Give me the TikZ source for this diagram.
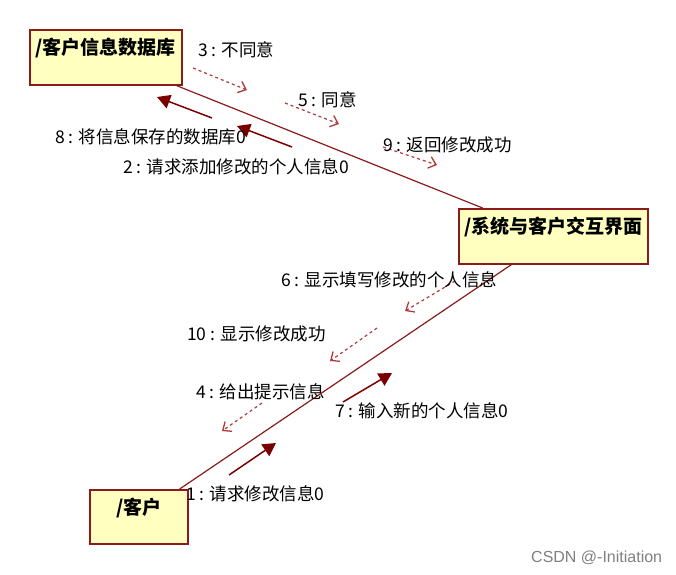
\documentclass[tikz,border=0pt]{standalone}
\usepackage{fontspec}
\newfontfamily\cjk{Noto Sans CJK SC}
\newfontfamily\wmfont{Liberation Sans}
\usepackage{tikz}
\usetikzlibrary{arrows.meta}

\definecolor{linkred}{HTML}{8B1A1A}
\definecolor{msgred}{HTML}{7A0000}
\definecolor{retred}{HTML}{B03A3A}
\definecolor{objfill}{HTML}{FFFFC0}

\begin{document}
\begin{tikzpicture}[
  x=1pt, y=-1pt,
  font=\cjk\fontsize{17.5}{19}\selectfont,
  obj/.style={draw=linkred, fill=objfill, line width=1.5pt, anchor=north west, align=center,
    inner xsep=4pt, inner ysep=4pt, text height=21pt,
    font=\cjk\bfseries\fontsize{19}{21}\selectfont},
  link/.style={draw=linkred, line width=1.2pt},
  call/.style={draw=msgred, line width=1.5pt, -{Triangle[length=13pt, width=14pt]}},
  reply/.style={draw=retred, line width=1.2pt, dash pattern=on 3pt off 3pt,
    -{Straight Barb[length=7pt, width=12pt, line width=1.3pt]}},
  msg/.style={anchor=west, inner sep=0pt},
]
\useasboundingbox (0,0) rectangle (676,574);

% objects
\node[obj, minimum width=152pt, minimum height=55pt, text depth=26pt] (dbase) at (29,29) {/客户信息数据库};
\node[obj, minimum width=189pt, minimum height=55pt, text depth=26pt] (ui) at (458,208) {/系统与客户交互界面};
\node[obj, minimum width=98pt, minimum height=54pt, text depth=25pt] (client) at (89,489) {/客户};

% links
\draw[link] (dbase) -- (ui);
\draw[link] (ui) -- (client);

% message ends
\coordinate (m3a) at (193,68);  \coordinate (m3b) at (247,90);
\coordinate (m5a) at (285,103); \coordinate (m5b) at (339,124);
\coordinate (m9a) at (383,147); \coordinate (m9b) at (437,165);
\coordinate (m8a) at (212,118); \coordinate (m8b) at (157,97);
\coordinate (m2a) at (292,147); \coordinate (m2b) at (237,126);
\coordinate (m6a) at (455,281); \coordinate (m6b) at (405,311);
\coordinate (m10a) at (377,328); \coordinate (m10b) at (330,361);
\coordinate (m4a) at (262,403); \coordinate (m4b) at (222,431);
\coordinate (m7a) at (343,402); \coordinate (m7b) at (392,373);
\coordinate (m1a) at (229,475); \coordinate (m1b) at (276,443);

% messages
\draw[reply] (m3a) -- (m3b);
\draw[reply] (m5a) -- (m5b);
\draw[reply] (m9a) -- (m9b);
\draw[call] (m8a) -- (m8b);
\draw[call] (m2a) -- (m2b);
\draw[reply] (m6a) -- (m6b);
\draw[reply] (m10a) -- (m10b);
\draw[reply] (m4a) -- (m4b);
\draw[call] (m7a) -- (m7b);
\draw[call] (m1a) -- (m1b);

\node[msg] (t3) at (198,50) {3 : 不同意};
\node[msg] (t5) at (298,100) {5 : 同意};
\node[msg] (t9) at (383,145) {9 : 返回修改成功};
\node[msg] (t8) at (55,137) {8 : 将信息保存的数据库0};
\node[msg] (t2) at (123,167) {2 : 请求添加修改的个人信息0};
\node[msg] (t6) at (281,280) {6 : 显示填写修改的个人信息};
\node[msg] (t10) at (187,334) {10 : 显示修改成功};
\node[msg] (t4) at (196,392) {4 : 给出提示信息};
\node[msg] (t7) at (335,411) {7 : 输入新的个人信息0};
\node[msg] (t1) at (186,494) {1 : 请求修改信息0};

\node[anchor=west, inner sep=0pt, text=gray, font=\wmfont\fontsize{16}{18}\selectfont] (mark) at (531,558) {CSDN @-Initiation};
\end{tikzpicture}
\end{document}
